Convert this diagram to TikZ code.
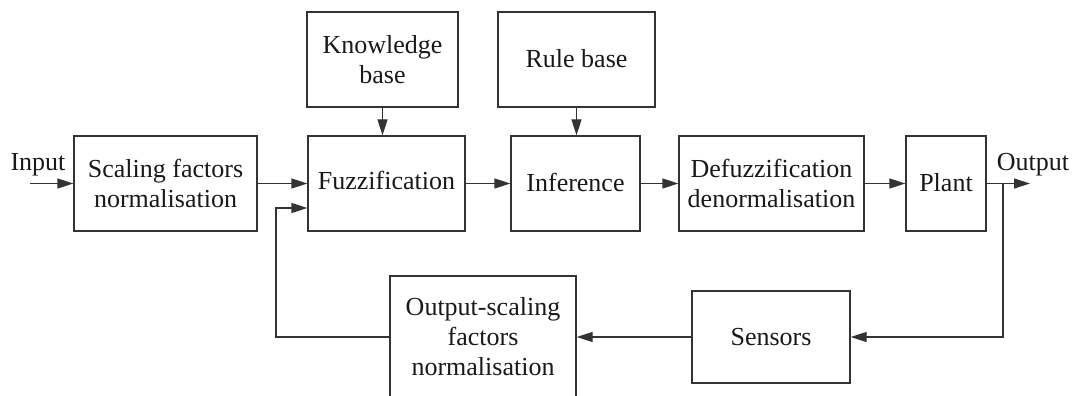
\documentclass[tikz,border=0pt]{standalone}
\usepackage{fontspec}
\setmainfont{Liberation Serif}
\usetikzlibrary{arrows.meta}
\begin{document}
\begin{tikzpicture}[x=1pt,y=-1pt,
  blk/.style={draw=black!80, line width=1.3pt, rectangle, inner sep=0pt, align=center,
    font=\fontsize{26}{30}\selectfont, text=black!90},
  lbl/.style={font=\fontsize{26}{30}\selectfont, text=black!90, inner sep=0pt},
  arr/.style={draw=black!80, line width=1.3pt, -{Triangle[length=16pt,width=10pt]}},
  ln/.style={draw=black!80, line width=1.3pt}]
\useasboundingbox (0,0) rectangle (1072,396);
\begin{scope}
\clip (0,0) rectangle (1072,396);
\node[blk, minimum width=183pt, minimum height=95pt] (scale) at (165.5,183.5) {Scaling factors\\normalisation};
\node[blk, minimum width=157pt, minimum height=95pt] (fuzz) at (386.5,183.5) {\raisebox{7pt}{Fuzzification}};
\node[blk, minimum width=151pt, minimum height=95pt] (know) at (382.5,59.5) {Knowledge\\base};
\node[blk, minimum width=157pt, minimum height=95pt] (rule) at (576.5,59.5) {\raisebox{3pt}{Rule base}};
\node[blk, minimum width=129pt, minimum height=95pt] (inf) at (575.5,183.5) {\raisebox{2pt}{Inference}};
\node[blk, minimum width=185pt, minimum height=95pt] (defuzz) at (771.5,183.5) {Defuzzification\\denormalisation};
\node[blk, minimum width=80pt, minimum height=95pt] (plant) at (946,183.5) {\raisebox{2pt}{Plant}};
\node[blk, minimum width=158pt, minimum height=92pt] (sens) at (771,337) {Sensors};
\node[blk, minimum width=186pt, minimum height=122pt] (outsc) at (483,337) {Output-scaling\\factors\\normalisation};
\end{scope}
\node[lbl] (inlbl) at (38,165) {Input};
\node[lbl] (outlbl) at (1033,165) {Output};
\coordinate (inS) at (30,183.5);
\coordinate (outE) at (1030,183.5);
\coordinate (tap) at (1003,183.5);
\coordinate (fbL) at (276,337);
\draw[arr] (inS) -- (scale.west);
\draw[arr] (scale.east) -- (fuzz.west);
\draw[arr] (fuzz.east) -- (inf.west);
\draw[arr] (inf.east) -- (defuzz.west);
\draw[arr] (defuzz.east) -- (plant.west);
\draw[arr] (plant.east) -- (outE);
\draw[arr] (know.south) -- (know.south |- fuzz.north);
\draw[arr] (rule.south) -- (rule.south |- inf.north);
\draw[arr] (tap) |- (sens.east);
\draw[arr] (sens.west) -- (outsc.east);
\draw[arr] (outsc.west) -- (fbL) -- (276,208) -- (fuzz.west |- 0,208);
\end{tikzpicture}
\end{document}
